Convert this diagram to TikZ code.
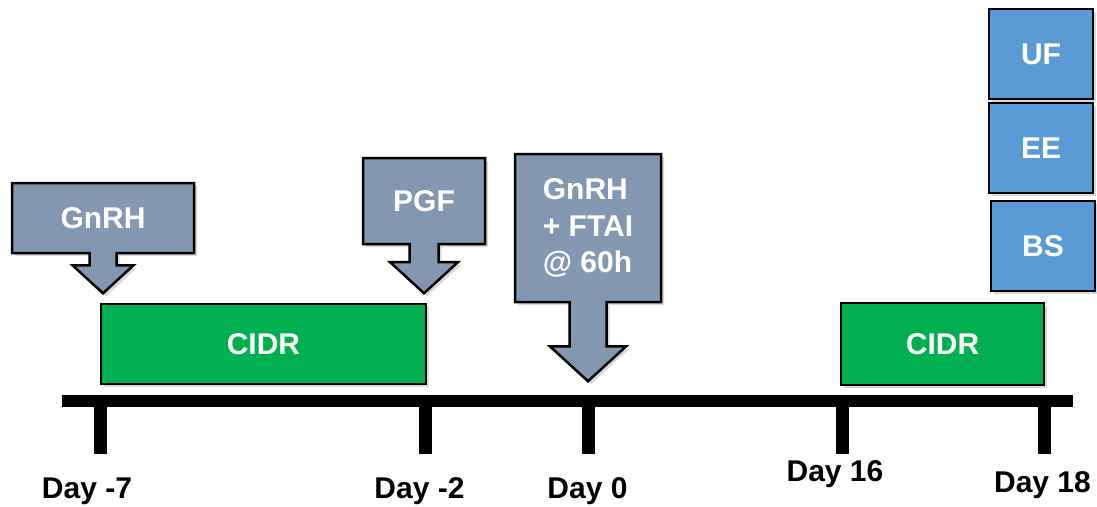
\documentclass[tikz,border=0pt]{standalone}
\usepackage{fontspec}
\setmainfont{Liberation Sans}
\usetikzlibrary{shapes.arrows,shadows}
\definecolor{cidrgreen}{HTML}{00B050}
\definecolor{dosegray}{HTML}{8497B0}
\definecolor{sampleblue}{HTML}{5B9BD5}

\begin{document}
\begin{tikzpicture}[x=1pt,y=-1pt,
    softshadow/.style={drop shadow={shadow xshift=3pt,shadow yshift=-3pt,opacity=.3}},
    txt/.style={text=white,font=\fontsize{30}{36.5}\selectfont\bfseries},
    cidr/.style={rectangle,draw=black,line width=2.5pt,fill=cidrgreen,txt,softshadow,inner sep=0pt},
    dose/.style={arrow box,draw=black,line width=2.5pt,fill=dosegray,txt,softshadow,inner sep=0pt,arrow box tip angle=95},
    samplebox/.style={rectangle,draw=black,line width=2.5pt,fill=sampleblue,txt,softshadow,inner sep=0pt,minimum width=104pt,minimum height=90pt},
    tick/.style={rectangle,fill=black,inner sep=0pt,minimum width=13pt,minimum height=47pt,anchor=north},
    day/.style={font=\fontsize{30}{36}\selectfont\bfseries,inner sep=0pt,anchor=base}]
\useasboundingbox (0,0) rectangle (1097,506);

% time line
\node[fill=black,inner sep=0pt,minimum width=1011pt,minimum height=12pt] (axis) at (567.5,401) {};
\foreach \x/\lx/\ly/\d/\n in {100/87/498/-7/m7, 425.5/419.5/498/-2/m2, 588/587.5/498/0/d0, 842/835/481/16/d16, 1044/1042.5/492/18/d18}
{
    \node[tick] (t\n) at (axis.south -| \x,0) {};
    \node[day] (l\n) at (\lx,\ly) {Day \d};
}

% CIDR inserts
\node[cidr,minimum width=325pt,minimum height=80pt] (cidr1) at (263.5,344) {CIDR};
\node[cidr,minimum width=203pt,minimum height=82pt] (cidr2) at (942.5,344) {CIDR};

% treatments
\node[dose,minimum width=182pt,minimum height=70pt,arrow box arrows={south:39pt from border},
      arrow box shaft width=27pt,arrow box head extend=17pt] (gnrh) at (103,218) {GnRH};
\node[dose,minimum width=122pt,minimum height=86pt,arrow box arrows={south:48pt from border},
      arrow box shaft width=29pt,arrow box head extend=19.5pt] (pgf) at (424,201) {PGF};
\node[dose,align=left,minimum width=146pt,minimum height=148pt,arrow box arrows={south:78pt from border},
      arrow box shaft width=37pt,arrow box head extend=19.5pt] (ftai) at (588,228) {GnRH\\+ FTAI\\@ 60h};

% samples
\node[samplebox] (uf) at (1041,54) {UF};
\node[samplebox] (ee) at (1041,148) {EE};
\node[samplebox] (bs) at (1043,246) {BS};
\end{tikzpicture}
\end{document}
